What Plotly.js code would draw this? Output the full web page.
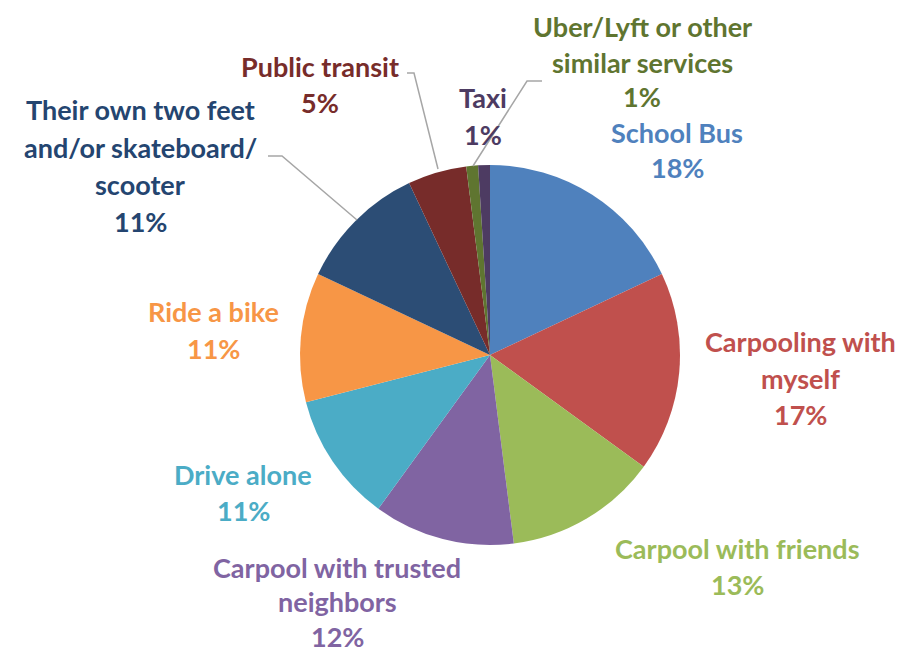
<!DOCTYPE html>
<html>
<head>
<meta charset="utf-8">
<script src="https://cdn.plot.ly/plotly-3.0.1.min.js"></script>
<style>html,body{margin:0;padding:0;background:#fff;}#chart{width:904px;height:653px;}</style>
</head>
<body>
<div id="chart"></div>
<script>
const categories = ["School Bus", "Carpooling with myself", "Carpool with friends", "Carpool with trusted neighbors", "Drive alone", "Ride a bike", "Their own two feet and/or skateboard/ scooter", "Public transit", "Uber/Lyft or other similar services", "Taxi"];
const values = [18, 17, 13, 12, 11, 11, 11, 5, 1, 1];
const percentLabels = ["18%", "17%", "13%", "12%", "11%", "11%", "11%", "5%", "1%", "1%"];
const labelLines = [
  ["School Bus"],
  ["Carpooling with", "myself"],
  ["Carpool with friends"],
  ["Carpool with trusted", "neighbors"],
  ["Drive alone"],
  ["Ride a bike"],
  ["Their own two feet", "and/or skateboard/", "scooter"],
  ["Public transit"],
  ["Uber/Lyft or other", "similar services"],
  ["Taxi"]
];
const sliceColors = ["#4F81BD", "#C0504D", "#9BBB59", "#8064A2", "#4BACC6", "#F79646", "#2C4D75", "#772C2A", "#5F7530", "#4D3B62"];
const textColors = ["#4F81BD", "#C0504D", "#9BBB59", "#8064A2", "#4BACC6", "#F79646", "#244570", "#772C2A", "#5F7530", "#4D3B62"];

const W = 904, H = 653;
const px = x => x / W;
const py = y => 1 - y / H;

// label block layout: center x, first-line y (pixels), line step
const labelPos = [
  [677, 132, 36], [800, 342, 36.5], [737, 548, 36], [337, 567, 34.5], [243, 474, 36.5],
  [213, 312, 36.5], [140, 110, 37], [320, 66, 36], [642, 27, 35], [483, 98, 36]
];

const annotations = [];
categories.forEach((c, i) => {
  const lines = labelLines[i].concat([percentLabels[i]]);
  lines.forEach((t, j) => {
    annotations.push({
      xref: 'paper', yref: 'paper',
      x: px(labelPos[i][0]), y: py(labelPos[i][1] + j * labelPos[i][2]),
      xanchor: 'center', yanchor: 'middle',
      text: t, showarrow: false,
      font: {family: 'Lato, "Open Sans", sans-serif', size: 27, color: textColors[i], weight: 'bold'}
    });
  });
});

const leader = pts => ({
  type: 'path', xref: 'paper', yref: 'paper',
  path: 'M' + pts.map(p => px(p[0]) + ',' + py(p[1])).join(' L'),
  line: {color: '#A6A6A6', width: 1.5}
});
const shapes = [
  leader([[268, 156], [282, 156], [357, 220]]),
  leader([[407, 73], [414, 73], [438, 169]]),
  leader([[542, 81], [527, 81], [473, 166]])
];

const cx = 490, cy = 355, r = 190;
const data = [{
  type: 'pie',
  labels: categories,
  values: values,
  sort: false,
  direction: 'clockwise',
  rotation: 0,
  textinfo: 'none',
  hoverinfo: 'label+percent',
  marker: {colors: sliceColors, line: {width: 0}},
  domain: {x: [px(cx - r), px(cx + r)], y: [py(cy + r), py(cy - r)]},
  showlegend: false
}];

const layout = {
  width: W, height: H,
  margin: {l: 0, r: 0, t: 0, b: 0},
  paper_bgcolor: '#fff',
  showlegend: false,
  annotations: annotations,
  shapes: shapes
};
Plotly.newPlot('chart', data, layout, {displayModeBar: false, staticPlot: true});
</script>
</body>
</html>
